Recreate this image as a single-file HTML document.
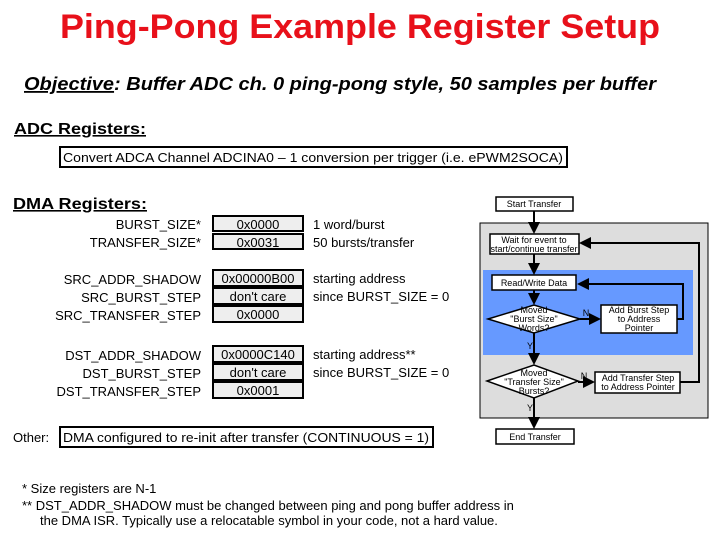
<!DOCTYPE html>
<html><head><meta charset="utf-8"><style>body{margin:0;background:#fff}svg{display:block}text{font-family:"Liberation Sans",sans-serif}</style></head><body>
<svg width="720" height="540" viewBox="0 0 720 540" xmlns="http://www.w3.org/2000/svg">
<defs><marker id="a" markerWidth="6" markerHeight="6" refX="5" refY="3" orient="auto"><path d="M0,0 L6,3 L0,6z" fill="#000"/></marker></defs>
<text x="360" y="38" text-anchor="middle" font-size="34" font-weight="bold" fill="#e8101a" textLength="600" lengthAdjust="spacingAndGlyphs">Ping-Pong Example Register Setup</text>
<text x="24" y="90" font-size="18" font-weight="bold" font-style="italic" textLength="632" lengthAdjust="spacingAndGlyphs"><tspan text-decoration="underline">Objective</tspan>: Buffer ADC ch. 0 ping-pong style, 50 samples per buffer</text>
<text x="14" y="134" font-size="16" font-weight="bold" text-decoration="underline" textLength="132" lengthAdjust="spacingAndGlyphs">ADC Registers:</text>
<rect x="60" y="147" width="507" height="20" fill="#fff" stroke="#000" stroke-width="2"/>
<text x="63" y="162" font-size="13" textLength="500" lengthAdjust="spacingAndGlyphs">Convert ADCA Channel ADCINA0 – 1 conversion per trigger (i.e. ePWM2SOCA)</text>
<text x="13" y="209" font-size="16" font-weight="bold" text-decoration="underline" textLength="134" lengthAdjust="spacingAndGlyphs">DMA Registers:</text>
<g font-size="13">
<g text-anchor="end">
<text x="201" y="229">BURST_SIZE*</text><text x="201" y="247">TRANSFER_SIZE*</text>
<text x="201" y="284">SRC_ADDR_SHADOW</text><text x="201" y="302">SRC_BURST_STEP</text><text x="201" y="320">SRC_TRANSFER_STEP</text>
<text x="201" y="360">DST_ADDR_SHADOW</text><text x="201" y="378">DST_BURST_STEP</text><text x="201" y="396">DST_TRANSFER_STEP</text>
</g>
<g fill="#eee" stroke="#000" stroke-width="2">
<rect x="213" y="216" width="90" height="15"/><rect x="213" y="234" width="90" height="15"/>
<rect x="213" y="270" width="90" height="16"/><rect x="213" y="288" width="90" height="16"/><rect x="213" y="306" width="90" height="16"/>
<rect x="213" y="346" width="90" height="16"/><rect x="213" y="364" width="90" height="16"/><rect x="213" y="382" width="90" height="16"/>
</g>
<g text-anchor="middle">
<text x="258" y="229">0x0000</text><text x="258" y="247">0x0031</text>
<text x="258" y="283">0x00000B00</text><text x="258" y="301">don't care</text><text x="258" y="319">0x0000</text>
<text x="258" y="359">0x0000C140</text><text x="258" y="377">don't care</text><text x="258" y="395">0x0001</text>
</g>
<text x="313" y="229">1 word/burst</text><text x="313" y="247">50 bursts/transfer</text>
<text x="313" y="283">starting address</text><text x="313" y="301">since BURST_SIZE = 0</text>
<text x="313" y="359">starting address**</text><text x="313" y="377">since BURST_SIZE = 0</text>
<text x="13" y="442">Other:</text>
<rect x="60" y="427" width="373" height="20" fill="#fff" stroke="#000" stroke-width="2"/>
<text x="63" y="442" textLength="366" lengthAdjust="spacingAndGlyphs">DMA configured to re-init after transfer (CONTINUOUS = 1)</text>
<text x="22" y="493">*   Size registers are N-1</text>
<text x="22" y="510">**  DST_ADDR_SHADOW must be changed between ping and pong buffer address in</text>
<text x="40" y="525">the DMA ISR.  Typically use a relocatable symbol in your code, not a hard value.</text>
</g>
<!-- flowchart -->
<rect x="480" y="223" width="228" height="195" fill="#ddd" stroke="#000"/>
<rect x="483" y="270" width="210" height="85" fill="#6699ff"/>
<g stroke="#000" stroke-width="2" fill="none">
<line x1="534" y1="211" x2="534" y2="232" marker-end="url(#a)"/>
<line x1="534" y1="254" x2="534" y2="273" marker-end="url(#a)"/>
<line x1="534" y1="290" x2="534" y2="303" marker-end="url(#a)"/>
<line x1="534" y1="333" x2="534" y2="363" marker-end="url(#a)"/>
<line x1="534" y1="398" x2="534" y2="427" marker-end="url(#a)"/>
<line x1="580" y1="319" x2="599" y2="319" marker-end="url(#a)"/>
<line x1="578" y1="382" x2="593" y2="382" marker-end="url(#a)"/>
<polyline points="677,319 683,319 683,284 579,284" marker-end="url(#a)"/>
<polyline points="680,382 699,382 699,243 581,243" marker-end="url(#a)"/>
</g>
<g stroke="#000" stroke-width="1.5" fill="#fff">
<rect x="496" y="197" width="77" height="14"/>
<rect x="490" y="234" width="89" height="20"/>
<rect x="492" y="275" width="84" height="15"/>
<polygon points="488,319 534,305 580,319 534,333"/>
<rect x="601" y="305" width="76" height="28"/>
<polygon points="487,381 534,365 578,381 534,398"/>
<rect x="595" y="372" width="85" height="21"/>
<rect x="496" y="429" width="78" height="15"/>
</g>
<g font-size="9" text-anchor="middle">
<text x="534" y="207">Start Transfer</text>
<text x="534" y="243">Wait for event to</text><text x="534" y="252">start/continue transfer</text>
<text x="534" y="286">Read/Write Data</text>
<text x="534" y="313">Moved</text><text x="534" y="322">"Burst Size"</text><text x="534" y="331">Words?</text>
<text x="639" y="313">Add Burst Step</text><text x="639" y="322">to Address</text><text x="639" y="331">Pointer</text>
<text x="534" y="376">Moved</text><text x="534" y="385">"Transfer Size"</text><text x="534" y="394">Bursts?</text>
<text x="638" y="381">Add Transfer Step</text><text x="638" y="390">to Address Pointer</text>
<text x="535" y="440">End Transfer</text>
<text x="586" y="316">N</text><text x="584" y="379">N</text>
<text x="530" y="349">Y</text><text x="530" y="411">Y</text>
</g>
</svg>
</body></html>
